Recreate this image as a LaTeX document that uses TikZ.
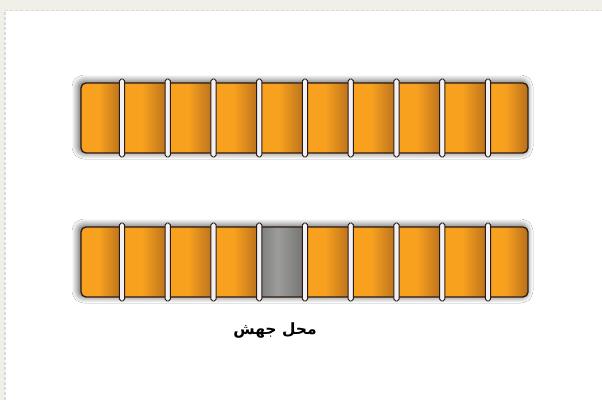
\documentclass[tikz,border=0pt]{standalone}
\usepackage{fontspec}
\newfontfamily\arabicfont[Script=Arabic]{DejaVu Sans}
\TeXXeTstate=1
\usetikzlibrary{shadows.blur}
\definecolor{bg}{HTML}{F0EFE8}
\definecolor{dashc}{HTML}{DADAD6}
\definecolor{segor}{HTML}{F8A11F}
\definecolor{segdk}{HTML}{B86F1C}
\definecolor{outl}{HTML}{2A1A10}
\definecolor{divf}{HTML}{F2F2F6}
\definecolor{gA}{HTML}{7C7C7A}
\definecolor{gB}{HTML}{9C9C9A}
\definecolor{gC}{HTML}{727270}
\pgfdeclarehorizontalshading{segshade}{100bp}{color(0bp)=(segor); color(25bp)=(segor); color(47bp)=(segor); color(75bp)=(segdk); color(100bp)=(segdk)}
\pgfdeclarehorizontalshading{grayshade}{100bp}{color(0bp)=(gA); color(25bp)=(gA); color(45bp)=(gB); color(75bp)=(gC); color(100bp)=(gC)}
\tikzset{
  barshadow/.style={blur shadow={shadow xshift=-2pt, shadow yshift=1pt, shadow blur radius=7pt, shadow blur steps=12, shadow opacity=75}},
  barline/.style={draw=outl, line width=1.3pt, rounded corners=5pt},
  divider/.style={draw=outl, fill=divf, line width=0.9pt, rounded corners=1.8pt},
  labeltext/.style={font=\arabicfont\bfseries\fontsize{15.5}{18}\selectfont, text=black}
}
\begin{document}
\begin{tikzpicture}[x=1pt,y=-1pt]
\useasboundingbox (0,0) rectangle (602,400);
\fill[bg] (0,0) rectangle (602,400);
\fill[white] (5,10.5) rectangle (602,400);
\draw[dashc, line width=1.3pt, dash pattern=on 3pt off 2pt] (5,400) -- (5,10.5) -- (602,10.5);
\foreach \T/\B/\g in {83/153/0, 227/297/1}{
  \path[barshadow, fill=white, rounded corners=5pt] (81,\T) rectangle (528,\B);
  \begin{scope}
    \clip[rounded corners=5pt] (81,\T) rectangle (528,\B);
    \foreach \a/\b [count=\i] in {81/122, 122/167.75, 167.75/213.5, 213.5/259.25, 259.25/305, 305/350.75, 350.75/396.5, 396.5/442.25, 442.25/488, 488/528}{
      \ifnum\g=1 \ifnum\i=5
        \shade[shading=grayshade] (\a,\T) rectangle (\b,\B);
      \else
        \shade[shading=segshade] (\a,\T) rectangle (\b,\B);
      \fi\else
        \shade[shading=segshade] (\a,\T) rectangle (\b,\B);
      \fi
    }
  \end{scope}
  \path[barline] (81,\T) rectangle (528,\B);
  \foreach \d in {122, 167.75, 213.5, 259.25, 305, 350.75, 396.5, 442.25, 488}{
    \path[divider] (\d-2.6,\T-4) rectangle (\d+2.6,\B+4);
  }
}
\node[labeltext] (label) at (275,330) {\beginR محل جهش\endR};
\end{tikzpicture}
\end{document}
